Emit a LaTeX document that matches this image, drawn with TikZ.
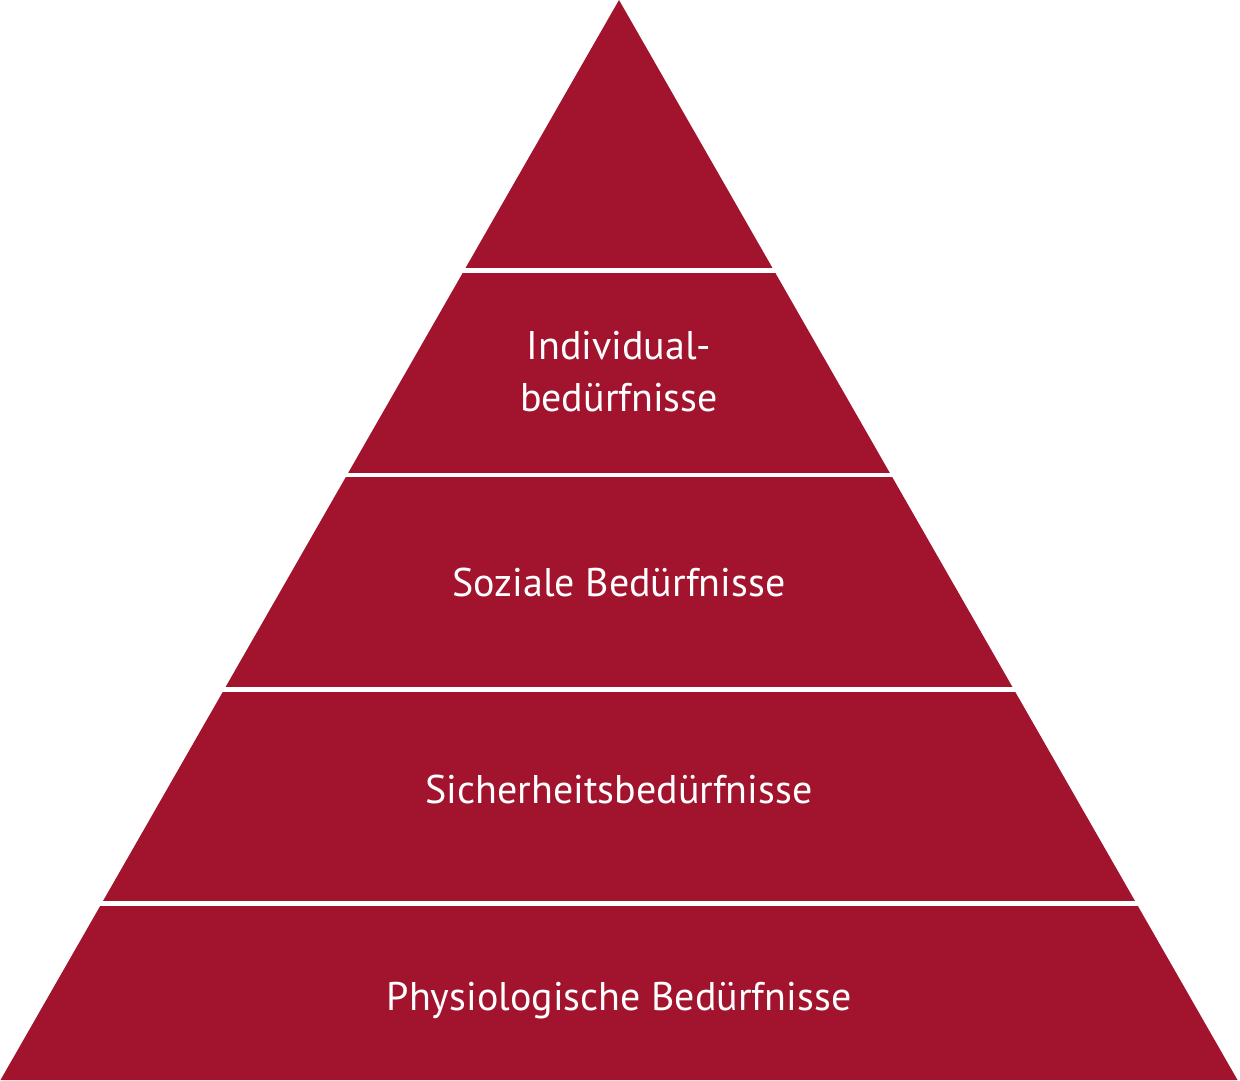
\documentclass[tikz,border=0pt]{standalone}
\usepackage{fontspec}
\setmainfont{PT Sans}
\definecolor{pyrred}{HTML}{A2132E}
\begin{document}
\begin{tikzpicture}[x=0.5pt,y=-0.5pt,
  gap/.style={fill=white,draw=none},
  label/.style={text=white,font=\fontsize{20}{25}\selectfont,anchor=base,inner sep=0pt}]
\fill[white] (0,0) rectangle (1240,1080);
\useasboundingbox (0,0) rectangle (1240,1080);
% pyramid
\fill[pyrred] (619,0) -- (1237.5,1080) -- (0.5,1080) -- cycle;
% white gaps between layers
\fill[gap] (-10,268.3) rectangle (1250,273.3);
\fill[gap] (-10,472.6) rectangle (1250,477.4);
\fill[gap] (-10,687.3) rectangle (1250,691.8);
\fill[gap] (-10,901.2) rectangle (1250,906.0);
% labels
\node[label] (ind1) at (619,359) {Individual-};
\node[label] (ind2) at (619,411) {bedürfnisse};
\node[label] (soz) at (619,596) {Soziale Bedürfnisse};
\node[label] (sich) at (619,803) {Sicherheitsbedürfnisse};
\node[label] (phys) at (619,1010) {Physiologische Bedürfnisse};
\end{tikzpicture}
\end{document}
